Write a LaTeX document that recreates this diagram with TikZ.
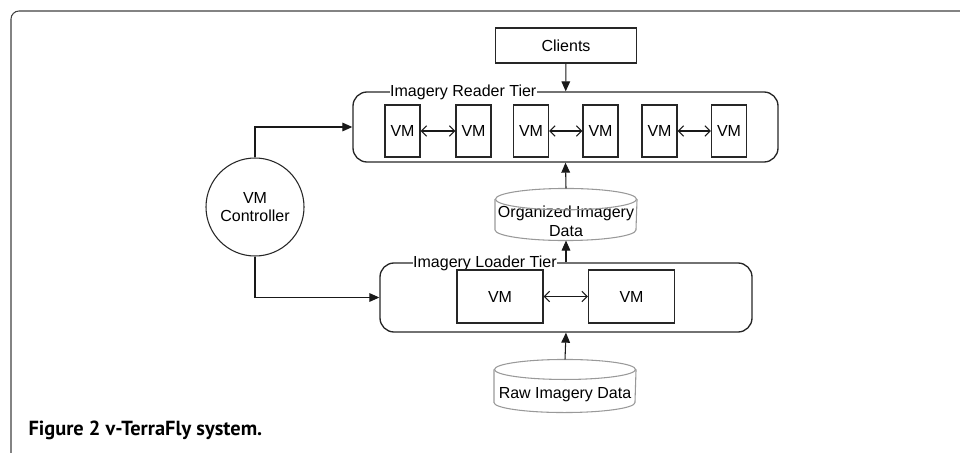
\documentclass[tikz,border=0pt]{standalone}
\usepackage{fontspec}
\setmainfont{Liberation Sans}
\newfontfamily\capfont{PT Sans}
\usetikzlibrary{positioning,arrows.meta}

\begin{document}
\begin{tikzpicture}[
  x=0.75pt, y=-0.75pt,
  font=\fontsize{12}{14}\selectfont,
  line width=0.8pt,
  box/.style={draw=black!85, rectangle, inner sep=0pt, align=center},
  tierbox/.style={draw=black!85, rectangle, rounded corners=10.5pt, line width=1pt},
  vmbox/.style={box, minimum width=26.25pt, minimum height=39pt},
  bigvm/.style={box, minimum width=64.5pt, minimum height=39.75pt},
  store/.style={rectangle, inner sep=0pt, minimum width=105.75pt},
  storeline/.style={draw=black!40, line width=0.8pt},
  tierlabel/.style={fill=white, inner xsep=0.5pt, inner ysep=0pt, anchor=west},
  arr/.style={-{Triangle[length=7.5pt, width=6.5pt]}, black!90},
  dbl/.style={{Straight Barb[length=4pt, width=8pt]}-{Straight Barb[length=4pt, width=8pt]}, black!90},
]
\useasboundingbox (0,0) rectangle (960,453);
\draw[black!75, rounded corners=6pt] (11,460) -- (11,11) -- (965,11);

\node[box, minimum width=105.75pt, minimum height=26.25pt] (clients) at (566,45.5) {Clients};

\node[tierbox, minimum width=318.75pt, minimum height=52.5pt] (reader) at (565.5,127) {};
\node[tierlabel] (readerlbl) at (389,92) {Imagery Reader Tier};
\node[vmbox] (r1) at (402.5,131) {VM};
\node[vmbox] (r2) at (473.5,131) {VM};
\node[vmbox] (r3) at (531,131) {VM};
\node[vmbox] (r4) at (600.5,131) {VM};
\node[vmbox] (r5) at (659.5,131) {VM};
\node[vmbox] (r6) at (729,131) {VM};

\node[store, minimum height=38.25pt,
      label={[align=center, yshift=-5pt]center:Organized Imagery\\Data}] (organized) at (566,214.5) {};
\draw[storeline] ([yshift=-8pt]organized.north west) -- ([yshift=8pt]organized.south west)
  arc[start angle=180, end angle=360, x radius=52.875pt, y radius=8pt]
  -- ([yshift=-8pt]organized.north east);
\draw[storeline] ([yshift=-8pt]organized.north) ellipse[x radius=52.875pt, y radius=8pt];

\node[tierbox, minimum width=279pt, minimum height=51.75pt] (loader) at (566,297.5) {};
\node[tierlabel] (loaderlbl) at (412,263) {Imagery Loader Tier};
\node[bigvm] (l1) at (500,296.5) {VM};
\node[bigvm] (l2) at (631.5,296.5) {VM};

\node[store, minimum height=39pt,
      label={[yshift=-6.5pt]center:Raw Imagery Data}] (raw) at (565,386) {};
\draw[storeline] ([yshift=-7.5pt]raw.north west) -- ([yshift=7.5pt]raw.south west)
  arc[start angle=180, end angle=360, x radius=52.875pt, y radius=7.5pt]
  -- ([yshift=-7.5pt]raw.north east);
\draw[storeline] ([yshift=-7.5pt]raw.north) ellipse[x radius=52.875pt, y radius=7.5pt];

\node[circle, draw=black!85, minimum size=73.5pt, inner sep=0pt, align=center] (ctrl) at (255,207) {VM\\Controller};

\node[anchor=base west, inner sep=0pt, font=\capfont\bfseries\fontsize{15.3}{17}\selectfont] (caption) at (28,435) {Figure 2 v-TerraFly system.};

\draw[arr] (clients) -- (reader);
\draw[dbl] (r1) -- (r2);
\draw[dbl] (r3) -- (r4);
\draw[dbl] (r5) -- (r6);
\draw[arr] (organized.north) -- (reader.south);
\draw[arr] (loader.north) -- (organized.south);
\draw[dbl] (l1) -- (l2);
\draw[arr] (raw.north) -- (loader.south);
\draw[arr] (ctrl.north) |- (reader.west);
\draw[arr] (ctrl.south) |- (loader.west);
\end{tikzpicture}
\end{document}
